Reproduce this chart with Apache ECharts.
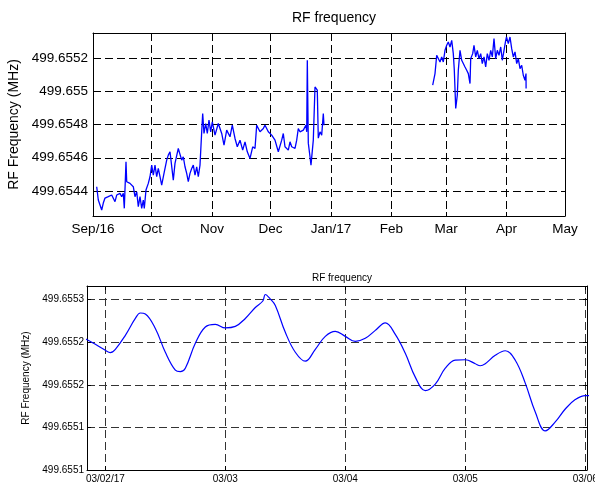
<!DOCTYPE html>
<html>
<head>
<meta charset="utf-8">
<script src="https://cdn.jsdelivr.net/npm/echarts@6.0.0/dist/echarts.min.js"></script>
<style>
  html, body { margin: 0; padding: 0; background: #fff; }
  #main { width: 595px; height: 485px; }
</style>
</head>
<body>
<div id="main"></div>
<script>
// upper plot: [days since 2016/09/01, MHz]
var topSeg1 = [
  [1.90,499.654426],[2.72,499.654346],[3.59,499.654316],[4.46,499.654286],[5.28,499.654328],[6.15,499.654358],
  [7.84,499.654366],[9.59,499.654376],[10.41,499.654366],[11.28,499.654336],[12.15,499.654376],[12.97,499.654366],
  [13.84,499.654386],[14.71,499.654366],[15.54,499.654386],[16.05,499.654296],[16.92,499.654576],[17.28,499.654456],
  [18.97,499.654446],[20.66,499.654426],[21.53,499.654366],[22.41,499.654396],[23.23,499.654306],[24.10,499.654366],
  [24.97,499.654296],[25.79,499.654346],[26.30,499.654296],[27.17,499.654406],[28.35,499.654446],[29.22,499.654486],
  [30.10,499.654556],[30.92,499.654496],[31.79,499.654556],[32.66,499.654486],[33.48,499.654536],[34.35,499.654486],
  [35.22,499.654436],[36.40,499.654506],[37.79,499.654586],[38.61,499.654616],[39.48,499.654636],[40.35,499.654626],
  [41.17,499.654466],[42.04,499.654566],[43.73,499.654656],[44.61,499.654666],[45.48,499.654586],[46.30,499.654606],
  [47.17,499.654546],[48.04,499.654506],[48.86,499.654456],[49.73,499.654506],[50.61,499.654536],[51.43,499.654556],
  [52.30,499.654496],[53.17,499.654546],[53.99,499.654486],[54.86,499.654556],[55.73,499.654756],[56.24,499.654866],
  [56.91,499.654746],[57.78,499.654806],[58.60,499.654746],[59.47,499.654826],[60.35,499.654756],[61.17,499.654816],
  [62.55,499.654736],[64.24,499.654806],[65.99,499.654746],[67.17,499.654676],[68.55,499.654766],[70.24,499.654726],
  [71.42,499.654796],[72.81,499.654716],[73.98,499.654666],[75.37,499.654706],[76.75,499.654646],[77.93,499.654696],
  [79.11,499.654636],[80.50,499.654596],[81.88,499.654666],[83.06,499.654656],[83.93,499.654796],[85.62,499.654756],
  [87.32,499.654776],[88.19,499.654796],[89.88,499.654756],[91.62,499.654736],[93.31,499.654706],[95.01,499.654636],
  [96.75,499.654706],[97.57,499.654746],[98.44,499.654666],[100.13,499.654646],[101.01,499.654696],[101.88,499.654666],
  [102.70,499.654666],[103.57,499.654656],[104.44,499.654706],[105.26,499.654776],[106.13,499.654756],[107.83,499.654766],
  [109.21,499.654796],[109.57,499.654756],[109.88,499.655186],[110.39,499.654688],[111.26,499.654606],[111.77,499.654556],
  [112.95,499.654706],[113.82,499.655026],[115.00,499.655006],[115.51,499.654718],[116.39,499.654756],[117.26,499.654736],
  [118.08,499.654866],[118.44,499.654796]
];
var topSeg2 = [
  [174.17,499.655036],[175.35,499.655106],[176.22,499.655216],[177.04,499.655226],[177.91,499.655176],[178.78,499.655206],
  [179.61,499.655176],[180.48,499.655246],[181.35,499.655276],[182.17,499.655296],[183.04,499.655266],[183.91,499.655306],
  [184.73,499.655226],[185.25,499.655126],[185.97,499.654896],[186.78,499.654976],[187.30,499.655126],[188.17,499.655246],
  [189.04,499.655186],[189.86,499.655176],[190.73,499.655146],[191.60,499.655126],[192.43,499.655106],[193.30,499.655046],
  [193.65,499.655196],[194.68,499.655226],[195.34,499.655276],[196.22,499.655206],[197.04,499.655246],[197.91,499.655196],
  [198.78,499.655226],[199.60,499.655166],[200.47,499.655206],[201.34,499.655146],[202.16,499.655226],[203.04,499.655186],
  [203.91,499.655246],[204.73,499.655206],[205.60,499.655316],[206.47,499.655196],[207.29,499.655246],[208.16,499.655216],
  [209.04,499.655266],[209.86,499.655186],[210.73,499.655246],[211.60,499.655306],[212.01,499.655326],[212.93,499.655286],
  [213.80,499.655326],[214.67,499.655256],[215.49,499.655206],[216.37,499.655236],[217.24,499.655166],[218.06,499.655196],
  [218.93,499.655136],[219.80,499.655156],[220.62,499.655096],[221.49,499.655066],[222.01,499.655106],[222.05,499.655016]
];
var monthTicks = ['2016/09/01','2016/10/01','2016/11/01','2016/12/01','2017/01/01','2017/02/01','2017/03/01','2017/04/01','2017/05/01'];
var monthLabels = ['Sep/16','Oct','Nov','Dec','Jan/17','Feb','Mar','Apr','May'];

// lower plot: [hours since 2017/03/02 00:00, MHz]
var zoomSeg = [
  [-4,499.6552540],[-2,499.6552475],[0,499.6552405],[1,499.6552378],[2,499.6552417],[4,499.6552581],[6,499.6552779],
  [7,499.6552843],[8,499.6552832],[10,499.6552662],[12,499.6552382],[14,499.6552172],[15,499.6552154],[16,499.6552195],
  [18,499.6552487],[20,499.6552678],[22,499.6552709],[24,499.6552668],[26,499.6552686],[28,499.6552779],[30,499.6552908],
  [31.5,499.6552984],[32,499.6553060],[33,499.6553007],[34,499.6552931],[36,499.6552616],[38,499.6552382],[40,499.6552277],
  [42,499.6552417],[44,499.6552569],[46,499.6552627],[48,499.6552569],[50,499.6552510],[52,499.6552546],[54,499.6552639],
  [56,499.6552727],[58,499.6552592],[60,499.6552370],[62,499.6552090],[64,499.6551932],[66,499.6552008],[68,499.6552195],
  [70,499.6552289],[72,499.6552294],[74,499.6552248],[75,499.6552224],[76,499.6552248],[78,499.6552347],[80,499.6552400],
  [82,499.6552289],[84,499.6552020],[86,499.6551681],[88,499.6551459],[90,499.6551564],[92,499.6551716],[94,499.6551827],
  [96,499.6551874],[97,499.6551874]
];
var dayTicks = ['2017/03/02','2017/03/03','2017/03/04','2017/03/05','2017/03/06'];
var dayLabels = ['03/02/17','03/03','03/04','03/05','03/06'];
var zoomYTicks = [499.6551, 499.65515, 499.6552, 499.65525, 499.6553];
var zoomYLabels = ['499.6551','499.6551','499.6552','499.6552','499.6553'];

var FONT = 'Liberation Sans, Arial, sans-serif';
var DAY = 86400000;
var HOUR = 3600000;
var topBase = new Date('2016/09/01').getTime();
var zoomBase = new Date('2017/03/02').getTime();

// tick positions in days / hours from the base dates
var monthPos = monthTicks.map(function (s) { return Math.round((new Date(s).getTime() - topBase) / DAY); });
var dayPos = dayTicks.map(function (s) { return Math.round((new Date(s).getTime() - zoomBase) / HOUR); });

function pickLabel(pos, labels, v) {
  for (var i = 0; i < pos.length; i++) {
    if (Math.abs(pos[i] - v) < 0.01) return labels[i];
  }
  return '';
}

var myChart = echarts.init(document.getElementById('main'));

function xAxisOf(grid, where, min, max, pos, labelOn, labels, fontSize, margin, gridColor) {
  return {
    type: 'value',
    gridIndex: grid,
    position: where,
    min: min,
    max: max,
    axisLine: { show: true, onZero: false, lineStyle: { color: '#000', width: 1 } },
    axisTick: { show: true, inside: true, length: 4, customValues: pos, lineStyle: { color: '#000' } },
    axisLabel: {
      show: labelOn,
      customValues: pos,
      color: '#000',
      fontFamily: FONT,
      fontSize: fontSize,
      margin: margin,
      formatter: function (v) { return pickLabel(pos, labels, v); }
    },
    splitLine: { show: labelOn, lineStyle: { color: gridColor, type: [8, 4], width: 1 } }
  };
}

var option = {
  animation: false,
  backgroundColor: '#fff',
  title: [
    { text: 'RF frequency', left: 329, top: 6, textAlign: 'center',
      textStyle: { fontFamily: FONT, fontSize: 14, fontWeight: 'normal', color: '#000' } },
    { text: 'RF frequency', left: 337, top: 268, textAlign: 'center',
      textStyle: { fontFamily: FONT, fontSize: 10, fontWeight: 'normal', color: '#000' } }
  ],
  grid: [
    { left: 93, right: 30, top: 33, bottom: 269, outerBoundsMode: 'none' },
    { left: 87, right: 8, top: 286, bottom: 15, outerBoundsMode: 'none' }
  ],
  xAxis: [
    xAxisOf(0, 'bottom', 0, monthPos[monthPos.length - 1], monthPos, true, monthLabels, 13.5, 6, '#000'),
    xAxisOf(0, 'top', 0, monthPos[monthPos.length - 1], monthPos, false, monthLabels, 13.5, 6, '#000'),
    xAxisOf(1, 'bottom', -3.67, 96.35, dayPos, true, dayLabels, 10, 4, '#333'),
    xAxisOf(1, 'top', -3.67, 96.35, dayPos, false, dayLabels, 10, 4, '#333')
  ],
  yAxis: [
    {
      type: 'value', gridIndex: 0, position: 'left',
      min: 499.65425, max: 499.65535, splitNumber: 5, minInterval: 0.0002, maxInterval: 0.0002,
      name: 'RF Frequency (MHz)', nameLocation: 'middle', nameGap: 68,
      nameTextStyle: { fontFamily: FONT, fontSize: 14, color: '#000' },
      axisLine: { show: true, onZero: false, lineStyle: { color: '#000', width: 1 } },
      axisTick: { show: true, inside: true, length: 4, lineStyle: { color: '#000' } },
      axisLabel: { color: '#000', fontFamily: FONT, fontSize: 13.5, margin: 5, showMinLabel: false, showMaxLabel: false },
      splitLine: { show: true, lineStyle: { color: '#000', type: [8, 4], width: 1 } }
    },
    {
      type: 'value', gridIndex: 0, position: 'right',
      min: 499.65425, max: 499.65535, splitNumber: 5, minInterval: 0.0002, maxInterval: 0.0002,
      axisLine: { show: true, onZero: false, lineStyle: { color: '#000', width: 1 } },
      axisTick: { show: true, inside: true, length: 4, lineStyle: { color: '#000' } },
      axisLabel: { show: false },
      splitLine: { show: false }
    },
    {
      type: 'value', gridIndex: 1, position: 'left',
      min: 499.6551, max: 499.655316, interval: 0.00005,
      name: 'RF Frequency (MHz)', nameLocation: 'middle', nameGap: 50,
      nameTextStyle: { fontFamily: FONT, fontSize: 10, color: '#000' },
      axisLine: { show: true, onZero: false, lineStyle: { color: '#000', width: 1 } },
      axisTick: { show: true, inside: true, length: 4, lineStyle: { color: '#000' } },
      axisLabel: {
        color: '#000', fontFamily: FONT, fontSize: 10, margin: 3, showMaxLabel: false,
        formatter: function (v) {
          var i = Math.round((v - zoomYTicks[0]) / (zoomYTicks[1] - zoomYTicks[0]));
          return zoomYLabels[i] || '';
        }
      },
      splitLine: { show: true, lineStyle: { color: '#333', type: [8, 4], width: 1 } }
    },
    {
      type: 'value', gridIndex: 1, position: 'right',
      min: 499.6551, max: 499.655316, interval: 0.00005,
      axisLine: { show: true, onZero: false, lineStyle: { color: '#000', width: 1 } },
      axisTick: { show: true, inside: true, length: 4, lineStyle: { color: '#000' } },
      axisLabel: { show: false },
      splitLine: { show: false }
    }
  ],
  series: [
    {
      name: 'RF frequency', type: 'line', xAxisIndex: 0, yAxisIndex: 0,
      showSymbol: false, lineStyle: { color: '#0000ff', width: 1.3 },
      data: topSeg1
    },
    {
      name: 'RF frequency', type: 'line', xAxisIndex: 0, yAxisIndex: 0,
      showSymbol: false, lineStyle: { color: '#0000ff', width: 1.3 },
      data: topSeg2
    },
    {
      name: 'RF frequency', type: 'line', xAxisIndex: 2, yAxisIndex: 2,
      showSymbol: false, smooth: 0.4, lineStyle: { color: '#0000ff', width: 1.2 },
      data: zoomSeg
    }
  ]
};
myChart.setOption(option);
</script>
</body>
</html>
